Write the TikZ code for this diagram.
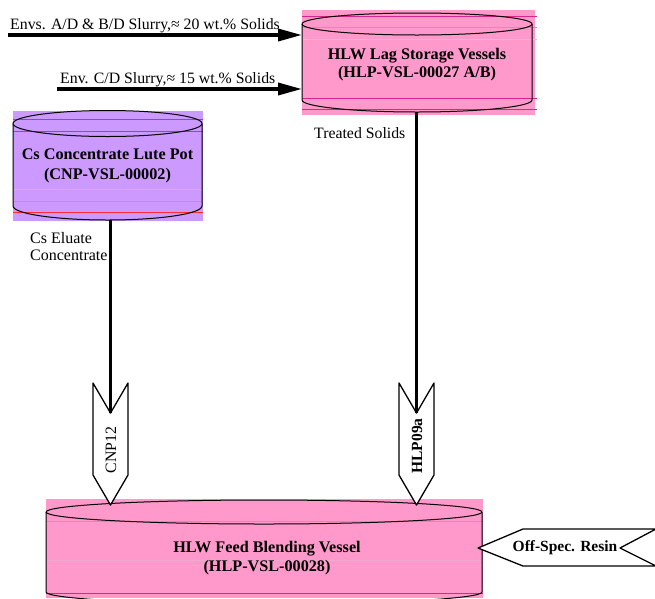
\documentclass[tikz,border=0pt]{standalone}
\usepackage{fontspec}
\setmainfont{Liberation Serif}
\usetikzlibrary{arrows.meta}
\definecolor{vslpink}{RGB}{255,153,204}
\definecolor{vslpurple}{RGB}{204,153,255}
\definecolor{magline}{RGB}{214,40,140}
\definecolor{magthin}{RGB}{232,130,185}
\definecolor{redline}{RGB}{255,45,45}
\definecolor{redthin}{RGB}{245,125,150}

\begin{document}
\begin{tikzpicture}[x=1pt,y=-1pt,line join=round,>={Triangle[length=24pt,width=12pt]}]
\tikzset{every node/.style={font=\fontsize{15.8}{18}\selectfont},
  vessel/.style={line width=1pt},
  feed/.style={line width=3.5pt},
  tag/.style={draw,line width=1.3pt,fill=white},
  vtitle/.style={font=\bfseries\fontsize{16.2}{19}\selectfont,align=center},
  tagbold/.style={font=\bfseries\fontsize{15.5}{18}\selectfont},
  streamlbl/.style={inner sep=0pt}}
\useasboundingbox (0,0) rectangle (655,598);

% HLW lag storage vessels
\fill[vslpink] (302,10) rectangle (535,115);
\foreach \yy/\cc in {16/magline,27/magthin,39/magthin!60,98/magline,109/magline}
  \draw[\cc,line width=0.6pt] (302,\yy)--(537,\yy);
\draw[vessel] (302,24)--(302,100) arc[start angle=180,end angle=0,x radius=115,y radius=12]--(532,24);
\draw[vessel] (417,24) ellipse[x radius=115,y radius=11];
\node[vtitle,font=\bfseries\fontsize{16.2}{18}\selectfont] (lagvsl) at (417,65) {HLW Lag Storage Vessels\\(HLP-VSL-00027 A/B)};
\coordinate (lagin1) at (302,35);
\coordinate (lagin2) at (302,89);
\coordinate (lagout) at (416.5,112);

% Cs concentrate lute pot
\fill[vslpurple] (13,111) rectangle (203,221);
\foreach \yy/\cc in {119/redline,131/redline,189/redthin!70,201/redthin,212/redline}
  \draw[\cc,line width=0.6pt] (13,\yy)--(203,\yy);
\draw[vessel] (13,123.5)--(13,206) arc[start angle=180,end angle=0,x radius=94.5,y radius=14]--(202,123.5);
\draw[vessel] (107.5,123.5) ellipse[x radius=94.5,y radius=13];
\node[vtitle,font=\bfseries\fontsize{16.2}{20}\selectfont] (cspot) at (107.5,166) {Cs Concentrate Lute Pot\\(CNP-VSL-00002)};
\coordinate (csout) at (110.5,220);

% HLW feed blending vessel
\fill[vslpink] (46,499) rectangle (483,598);
\foreach \yy/\cc in {521/magthin,560/magthin!70,565/magthin!70,593/magline}
  \draw[\cc,line width=0.6pt] (46,\yy)--(483,\yy);
\draw[vessel] (46,512)--(46,592) arc[start angle=180,end angle=0,x radius=218,y radius=12]--(482,512);
\draw[vessel] (264,512) ellipse[x radius=218,y radius=12];
\node[vtitle] (blendvsl) at (267,558.5) {HLW Feed Blending Vessel\\(HLP-VSL-00028)};

% incoming slurries
\coordinate (envab) at (8,35);
\coordinate (envc) at (57,89);
\draw[feed,->] (envab)--(lagin1);
\draw[feed,->] (envc)--(lagin2);
\node[streamlbl,anchor=base west] (envablbl) at (10,29) {Envs. A/D \& B/D Slurry,≈ 20 wt.\% Solids};
\node[streamlbl,anchor=base west] (envclbl) at (60,83) {Env. C/D Slurry,≈ 15 wt.\% Solids};

% stream tags
\draw[tag] (93,383)--(110.5,413)--(128,383)--(128,475)--(110.5,505)--(93,475)--cycle;
\coordinate (cnpin) at (110.5,413);
\node[rotate=90] (cnp) at (111,450) {CNP12};
\draw[tag] (399,383)--(416.5,413)--(434,383)--(434,475)--(416.5,505)--(399,475)--cycle;
\coordinate (hlpin) at (416.5,413);
\node[rotate=90,tagbold] (hlp) at (417,446) {HLP09a};
\draw[tag] (478,548)--(523,529)--(656,529)--(620,548)--(656,566)--(523,566)--cycle;
\node[tagbold] (offspec) at (565,548) {Off-Spec. Resin};

% transfer lines
\draw[feed] (csout)--(cnpin);
\draw[feed] (lagout)--(hlpin);
\node[streamlbl,anchor=base west] (treated) at (314,138) {Treated Solids};
\node[streamlbl,anchor=base west,align=left,font=\fontsize{16}{17}\selectfont] (eluate) at (30,260) {Cs Eluate\\Concentrate};
\end{tikzpicture}
\end{document}
